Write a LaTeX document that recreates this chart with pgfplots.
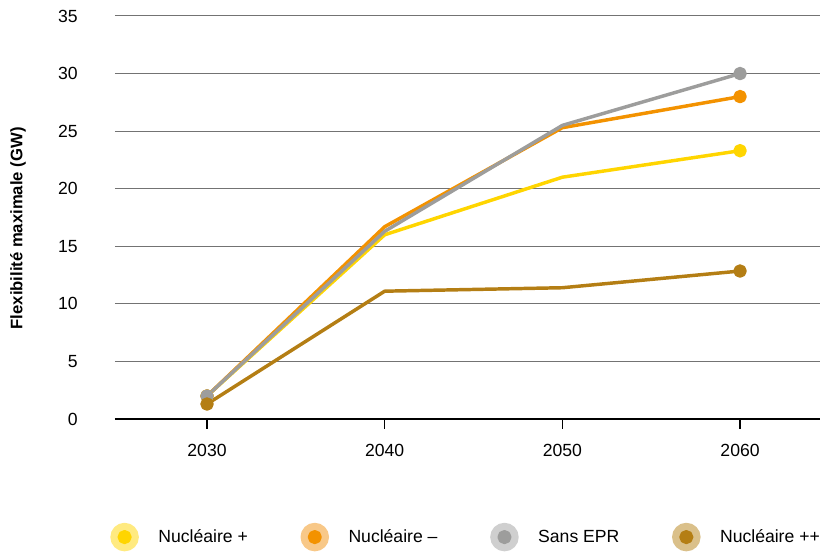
\documentclass[border=0pt]{standalone}
\usepackage{pgfplots}
\pgfplotsset{compat=1.18}
\usepackage{fontspec}
\setmainfont{Liberation Sans}
\definecolor{cy}{HTML}{FFD500}
\definecolor{cyl}{HTML}{FFEA80}
\definecolor{co}{HTML}{F39200}
\definecolor{col}{HTML}{F8C888}
\definecolor{cg}{HTML}{9D9D9C}
\definecolor{cgl}{HTML}{CFCFCF}
\definecolor{cb}{HTML}{B47E14}
\definecolor{cbl}{HTML}{DAC08A}
\begin{document}
\begin{tikzpicture}
\useasboundingbox (0,0) rectangle (615pt,414pt);
\begin{axis}[
  at={(86.25pt,99.75pt)}, anchor=south west,
  scale only axis, width=528.75pt, height=302.25pt,
  xmin=-0.518, xmax=3.45, ymin=0, ymax=35,
  ytick={0,5,...,35},
  xtick={0,1,2,3}, xticklabels={2030,2040,2050,2060},
  axis lines*=left,
  y axis line style={draw=none},
  x axis line style={black, line width=0.9pt},
  ymajorgrids, grid style={black!55, line width=0.75pt},
  ytick style={draw=none},
  xtick style={black, line width=0.9pt},
  tick align=outside, xtick pos=bottom, ytick pos=left,
  major tick length=7.5pt,
  /pgf/number format/assume math mode=true,
  /pgf/number format/1000 sep={},
  tick label style={font=\fontsize{13.2}{15}\selectfont},
  yticklabel shift=17pt,
  xticklabel shift=8pt,
  ylabel={Flexibilité maximale (GW)},
  ylabel style={font=\bfseries\fontsize{12.5}{14}\selectfont, at={(axis description cs:-0.1376,0.473)}, anchor=center},
  legend columns=4,
  legend style={draw=none, fill=none, font=\fontsize{13.2}{15}\selectfont,
    at={(axis description cs:-0.007,-0.293)}, anchor=west, inner xsep=0pt,
    /tikz/every odd column/.append style={column sep=12.6pt},
    /tikz/every even column/.append style={column sep=37.5pt}},
  every axis plot/.append style={line width=2.6pt, line join=round, mark=*, mark size=3.75pt, mark indices={1,4}, mark options={solid}},
]
\addplot[cy, legend image code/.code={\fill[cyl] (0pt,0pt) circle (9.4pt); \fill[cy] (0pt,0pt) circle (4pt);}]
  coordinates {(0,2.0) (1,16.0) (2,21.0) (3,23.3)};
\addlegendentry{Nucléaire +}
\addplot[co, legend image code/.code={\fill[col] (0pt,0pt) circle (9.4pt); \fill[co] (0pt,0pt) circle (4pt);}]
  coordinates {(0,2.0) (1,16.7) (2,25.3) (3,28.0)};
\addlegendentry{Nucléaire --}
\addplot[cg, legend image code/.code={\fill[cgl] (0pt,0pt) circle (9.4pt); \fill[cg] (0pt,0pt) circle (4pt);}]
  coordinates {(0,2.0) (1,16.3) (2,25.5) (3,30.0)};
\addlegendentry{Sans EPR}
\addplot[cb, legend image code/.code={\fill[cbl] (0pt,0pt) circle (9.4pt); \fill[cb] (0pt,0pt) circle (4pt);}]
  coordinates {(0,1.3) (1,11.1) (2,11.4) (3,12.85)};
\addlegendentry{Nucléaire ++}
\end{axis}
\end{tikzpicture}
\end{document}
